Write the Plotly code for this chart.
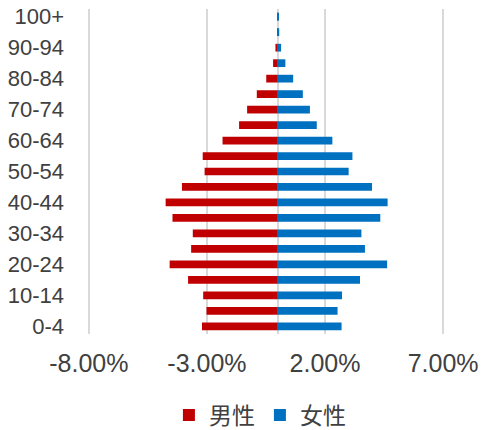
import plotly.graph_objects as go

ages = ["0-4", "5-9", "10-14", "15-19", "20-24", "25-29", "30-34", "35-39",
        "40-44", "45-49", "50-54", "55-59", "60-64", "65-69", "70-74",
        "75-79", "80-84", "85-89", "90-94", "95-99", "100+"]
male_pct = [3.21, 3.02, 3.16, 3.80, 4.58, 3.67, 3.60, 4.46, 4.75, 4.06, 3.10,
            3.18, 2.34, 1.64, 1.30, 0.89, 0.49, 0.20, 0.10, 0.03, 0.02]
female_pct = [2.70, 2.53, 2.72, 3.48, 4.63, 3.69, 3.54, 4.34, 4.65, 3.99, 3.00,
              3.16, 2.31, 1.65, 1.36, 1.06, 0.65, 0.32, 0.14, 0.06, 0.05]
y_tick_labels = ages[::2]
x_tick_vals = [-0.08, -0.03, 0.02, 0.07]
x_tick_text = ["-8.00%", "-3.00%", "2.00%", "7.00%"]

male = [-v / 100 for v in male_pct]
female = [v / 100 for v in female_pct]

FONT = "Liberation Sans, Arial, sans-serif"
TXT = "#404040"

fig = go.Figure()
fig.add_trace(go.Bar(y=ages, x=male, orientation="h", name="男性",
                     marker=dict(color="#C00000", line=dict(width=0))))
fig.add_trace(go.Bar(y=ages, x=female, orientation="h", name="女性",
                     marker=dict(color="#0070C0", line=dict(width=0))))

fig.update_layout(
    width=482, height=430,
    margin=dict(l=86.5, r=36.5, t=9, b=96, autoexpand=False),
    paper_bgcolor="white", plot_bgcolor="white",
    barmode="relative", bargap=0.5,
    font=dict(family=FONT, color=TXT),
    showlegend=True,
    legend=dict(orientation="h", x=0.483, xanchor="center",
                yref="container", y=0.035, yanchor="middle",
                font=dict(size=23, family="Liberation Sans, Noto Sans CJK SC, sans-serif", color=TXT),
                itemwidth=30, traceorder="normal"),
    xaxis=dict(range=[-0.0808, 0.0708], tickvals=x_tick_vals, ticktext=x_tick_text,
               showgrid=True, gridcolor="#D9D9D9", gridwidth=1.5,
               zeroline=True, zerolinecolor="#D9D9D9", zerolinewidth=1.5,
               showline=False, ticks="", ticklabelstandoff=12, automargin=False,
               tickfont=dict(size=25, color=TXT), fixedrange=True),
    yaxis=dict(categoryorder="array", categoryarray=ages, type="category",
               tickvals=y_tick_labels, ticktext=y_tick_labels, automargin=False,
               showgrid=False, showline=False, ticks="", ticklabelstandoff=22,
               tickfont=dict(size=22, color=TXT), fixedrange=True),
)

fig.write_html("out.html", config={"displayModeBar": False},
               post_script="document.body.style.margin='0';")
